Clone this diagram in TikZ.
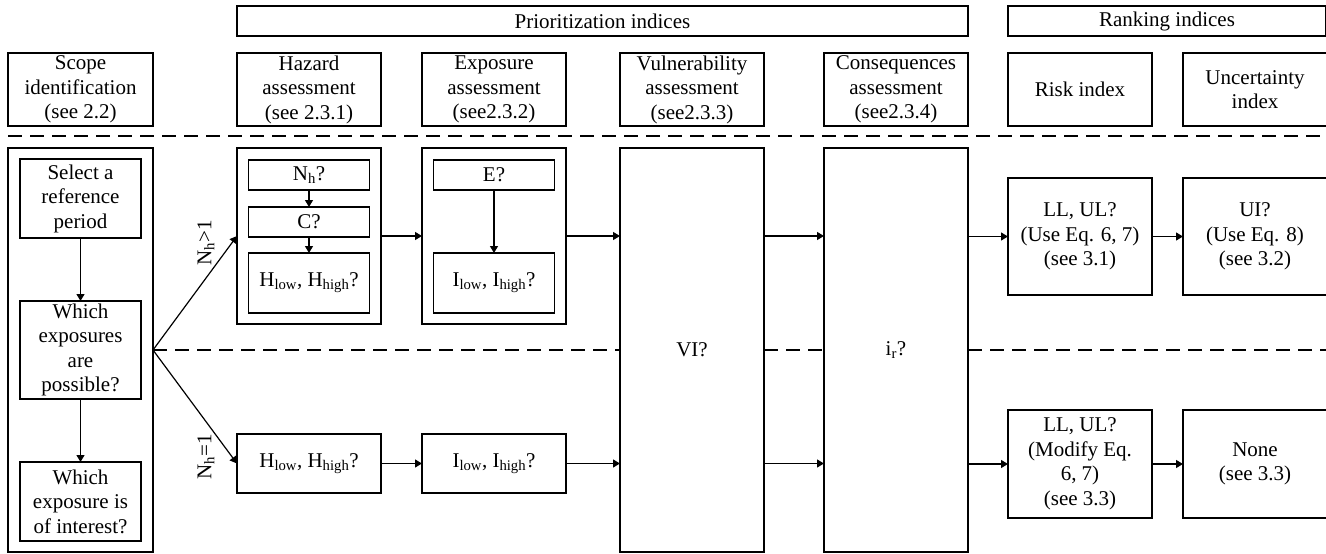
\documentclass[tikz,border=0pt]{standalone}
\usepackage{fontspec}
\setmainfont{Liberation Serif}
\usetikzlibrary{positioning, arrows.meta}

\begin{document}
\begin{tikzpicture}[x=1pt, y=1pt, font=\fontsize{21}{24.5}\selectfont]
	% styles
	\tikzstyle{head} = [rectangle, draw, line width=1.6pt, outer sep=0pt, inner sep=0pt, align=center, minimum width=144pt, minimum height=73pt]
	\tikzstyle{block} = [rectangle, draw, fill=white, line width=1.6pt, outer sep=0pt, inner sep=0pt, align=center, minimum width=144pt]
	\tikzstyle{inblock} = [block, minimum width=121pt]
	\tikzstyle{arrow} = [line width=1.2pt, -{Triangle[length=7pt, width=8pt]}]
	\tikzstyle{dashline} = [line width=1.3pt, dash pattern=on 14pt off 8pt]
	\useasboundingbox (0,0) rectangle (1326,-554);

	% header row
	\node [head, minimum width=145pt] (scope) at (80.5,-89.5) {Scope\\identification\\(see 2.2)};
	\node [head, right=84pt of scope] (hazh) {Hazard\\assessment\\(see 2.3.1)};
	\node [head, right=41pt of hazh] (exph) {Exposure\\assessment\\(see2.3.2)};
	\node [head, right=54pt of exph] (vulh) {Vulnerability\\assessment\\(see2.3.3)};
	\node [head, right=60pt of vulh] (conh) {Consequences\\assessment\\(see2.3.4)};
	\node [head, right=40pt of conh] (riskh) {Risk index};
	\node [head, right=31pt of riskh] (unch) {Uncertainty\\index};
	\node [head, minimum width=731pt, minimum height=30pt, above right=17pt and 0pt of hazh.north west] (prio) {Prioritization indices};
	\node [head, minimum width=318pt, minimum height=30pt, above right=17pt and 0pt of riskh.north west] (rank) {Ranking indices};

	% scope column
	\node [block, minimum width=145pt, minimum height=404pt, below=22pt of scope] (scopebox) {};
	\node [inblock, minimum height=79pt, below=11pt of scopebox.north] (sel) {Select a\\reference\\period};
	\node [inblock, minimum height=98pt, below=63pt of sel] (poss) {Which\\exposures\\are\\possible?};
	\node [inblock, minimum height=79pt, below=63pt of poss] (intr) {Which\\exposure is\\of interest?};

	% N_h > 1
	\node [block, minimum height=176pt, below=22pt of hazh] (hazbox) {};
	\node [inblock, minimum height=30pt, below=12pt of hazbox.north] (nh) {N\textsubscript{h}?};
	\node [inblock, minimum height=30pt, below=17pt of nh] (cq) {C?};
	\node [inblock, minimum height=60pt, below=16pt of cq] (hh) {H\textsubscript{low}, H\textsubscript{high}?};
	\node [block, minimum height=176pt, below=22pt of exph] (expbox) {};
	\node [inblock, minimum height=30pt, below=12pt of expbox.north] (eq) {E?};
	\node [inblock, minimum height=60pt, below=63pt of eq] (ii) {I\textsubscript{low}, I\textsubscript{high}?};
	\node [block, minimum height=117pt, below=52pt of riskh] (ll1) {LL, UL?\\(Use Eq. 6, 7)\\(see 3.1)};
	\node [block, minimum height=117pt, below=52pt of unch] (ui) {UI?\\(Use Eq. 8)\\(see 3.2)};

	% N_h = 1
	\node [block, minimum height=59pt, below=110pt of hazbox] (hh2) {H\textsubscript{low}, H\textsubscript{high}?};
	\node [block, minimum height=59pt, below=110pt of expbox] (ii2) {I\textsubscript{low}, I\textsubscript{high}?};
	\node [block, minimum height=108pt, below=115pt of ll1] (ll2) {LL, UL?\\(Modify Eq.\\6, 7)\\(see 3.3)};
	\node [block, minimum height=108pt, below=115pt of ui] (none) {None\\(see 3.3)};

	% shared columns
	\node [block, minimum height=404pt, below=22pt of vulh] (vi) {VI?};
	\node [block, minimum height=404pt, below=22pt of conh] (ir) {i\textsubscript{r}?};

	\node [rotate=90] (gtone) at (206,-243) {N\textsubscript{h}>1};
	\node [rotate=90] (eqone) at (206,-457) {N\textsubscript{h}=1};

	% separators
	\draw [dashline] ([yshift=-10pt]scope.south west) -- ++(1330,0);
	\draw [dashline] (scopebox.east) -- (scopebox.east -| vi.west);
	\draw [dashline] (vi.east |- scopebox.east) -- (scopebox.east -| ir.west);
	\draw [dashline] (ir.east |- scopebox.east) -- ++(400,0);

	% arrows
	\draw [arrow] (sel) -- (poss);
	\draw [arrow] (poss) -- (intr);
	\draw [arrow] (nh) -- (cq);
	\draw [arrow] (cq) -- (hh);
	\draw [arrow] (eq) -- (ii);
	\draw [arrow] (scopebox.east) -- (hazbox.west);
	\draw [arrow] (scopebox.east) -- (hh2.west);
	\draw [arrow] (hazbox) -- (expbox);
	\draw [arrow] (expbox.east) -- (expbox.east -| vi.west);
	\draw [arrow] (hh2) -- (ii2);
	\draw [arrow] (ii2.east) -- (ii2.east -| vi.west);
	\draw [arrow] (vi.east |- expbox.east) -- (ir.west |- expbox.east);
	\draw [arrow] (vi.east |- ii2.east) -- (ir.west |- ii2.east);
	\draw [arrow] (ir.east |- ll1.west) -- (ll1.west);
	\draw [arrow] (ir.east |- ll2.west) -- (ll2.west);
	\draw [arrow] (ll1) -- (ui);
	\draw [arrow] (ll2) -- (none);
\end{tikzpicture}
\end{document}
